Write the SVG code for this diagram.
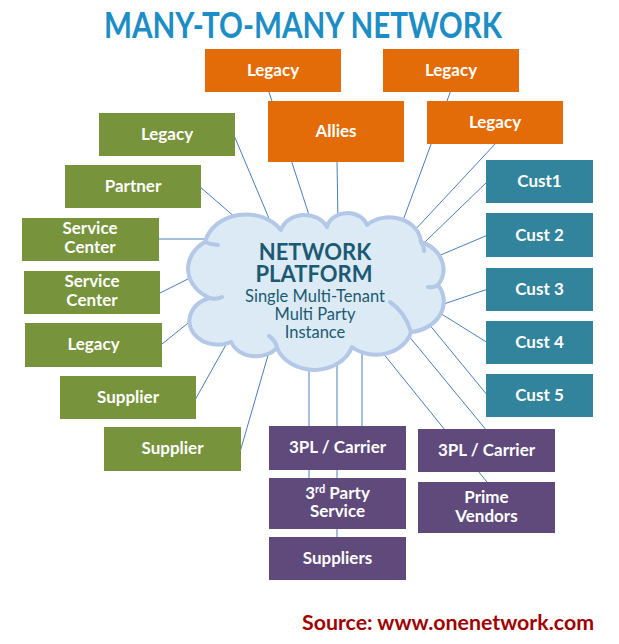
<svg xmlns="http://www.w3.org/2000/svg" width="619" height="644" viewBox="0 0 619 644">
<style>
.c line{stroke:#4a7ebb;stroke-width:1}
text{font-family:Lato,"Open Sans","Liberation Sans",sans-serif;font-weight:bold}
.box text{font-size:17px;fill:#ffffff;text-anchor:middle}
.or rect{fill:#e36c09}
.gr rect{fill:#77933c}
.te rect{fill:#31849b}
.pu rect{fill:#604a7b}
.cloud{fill:#dbeaf5;stroke:#b3c7e6;stroke-width:4;stroke-linejoin:round}
.crease{fill:none;stroke:#b3c7e6;stroke-width:4;stroke-linecap:round}
.ct{fill:#1b5a72;text-anchor:middle}
.cs{font-weight:normal;font-size:16.5px}
</style>
<rect width="619" height="644" fill="#ffffff"/>
<text x="303" y="38" font-size="36" fill="#1c8dc5" text-anchor="middle" textLength="398" lengthAdjust="spacingAndGlyphs">MANY-TO-MANY NETWORK</text>

<g id="connectors" class="c">
<line x1="268" y1="89" x2="313.7" y2="229.4"/>
<line x1="337" y1="160" x2="338" y2="225"/>
<line x1="451" y1="90" x2="399.8" y2="229.2"/>
<line x1="496" y1="143" x2="404.8" y2="240.8"/>
<line x1="233" y1="133" x2="273.5" y2="229.1"/>
<line x1="199" y1="186" x2="245" y2="225.8"/>
<line x1="157" y1="239" x2="218" y2="239"/>
<line x1="158" y1="294" x2="198.7" y2="273.6"/>
<line x1="160" y1="345.6" x2="197.4" y2="315.6"/>
<line x1="195" y1="400" x2="233.9" y2="330.5"/>
<line x1="240" y1="452" x2="272.3" y2="340.5"/>
<line x1="488" y1="181" x2="418.4" y2="248.3"/>
<line x1="488" y1="235" x2="431.9" y2="258.6"/>
<line x1="488" y1="289" x2="435.6" y2="306.8"/>
<line x1="488" y1="343" x2="432.8" y2="308.6"/>
<line x1="488" y1="396" x2="420.4" y2="313.7"/>
<line x1="405.3" y1="331.8" x2="487" y2="431"/>
<line x1="374.5" y1="342.7" x2="489" y2="484.5"/>
<line x1="309" y1="360" x2="309" y2="480"/>
<line x1="337" y1="360" x2="337" y2="539"/>
<line x1="362" y1="350" x2="362" y2="428"/>
</g>

<g id="cloud">
<path class="cloud" d="M205,242 A42,35 0 0 1 281,230 A24.5,20.4 0 0 1 327,227 A20.7,17.2 0 0 1 367,225 A31.7,26.4 0 0 1 421,242 A35,29.3 0 0 1 438,285 A36.8,30.7 0 0 1 411,332 A36,30 0 0 1 352,347 A39.6,33 0 0 1 277,348 A27,22.6 0 0 1 231,342 A28.5,23.8 0 1 1 210,298 A39,32.5 0 0 1 205,242 Z"/>
<path class="crease" d="M421,242 Q424,246 424,251 M438,285 Q433,288 428,287 M411,332 Q405,312 390,302 M277,348 Q276,341 269,336 M210,298 Q216,300 222,297 M205,242 Q211,245 218,245"/>
<text class="ct" x="315" y="260" font-size="22">NETWORK</text>
<text class="ct" x="314" y="282" font-size="22">PLATFORM</text>
<text class="ct cs" x="315" y="302">Single Multi-Tenant</text>
<text class="ct cs" x="315" y="320">Multi Party</text>
<text class="ct cs" x="315" y="338">Instance</text>
</g>

<g id="legacy-o1" class="box or"><rect x="205" y="49" width="136" height="43"/><text x="273" y="76">Legacy</text></g>
<g id="legacy-o2" class="box or"><rect x="383" y="49" width="136" height="43"/><text x="451" y="76">Legacy</text></g>
<g id="allies" class="box or"><rect x="268" y="101" width="136" height="61"/><text x="336" y="137">Allies</text></g>
<g id="legacy-o3" class="box or"><rect x="427" y="101" width="136" height="43"/><text x="495" y="128">Legacy</text></g>

<g id="legacy-g1" class="box gr"><rect x="99" y="113" width="136" height="43"/><text x="167" y="140">Legacy</text></g>
<g id="partner" class="box gr"><rect x="65" y="165" width="136" height="43"/><text x="133" y="192">Partner</text></g>
<g id="service-center-1" class="box gr"><rect x="22" y="218" width="137" height="43"/><text x="90" y="234">Service</text><text x="90" y="253">Center</text></g>
<g id="service-center-2" class="box gr"><rect x="24" y="271" width="136" height="43"/><text x="92" y="287">Service</text><text x="92" y="306">Center</text></g>
<g id="legacy-g2" class="box gr"><rect x="25" y="323" width="137" height="44"/><text x="93.5" y="350">Legacy</text></g>
<g id="supplier-1" class="box gr"><rect x="60" y="376" width="136" height="43"/><text x="128" y="403">Supplier</text></g>
<g id="supplier-2" class="box gr"><rect x="104" y="427" width="137" height="44"/><text x="172.5" y="454">Supplier</text></g>

<g id="cust1" class="box te"><rect x="486" y="160" width="107" height="43"/><text x="539.5" y="187">Cust1</text></g>
<g id="cust2" class="box te"><rect x="486" y="213" width="107" height="44"/><text x="539.5" y="241">Cust 2</text></g>
<g id="cust3" class="box te"><rect x="486" y="268" width="107" height="43"/><text x="539.5" y="295">Cust 3</text></g>
<g id="cust4" class="box te"><rect x="486" y="321" width="107" height="43"/><text x="539.5" y="348">Cust 4</text></g>
<g id="cust5" class="box te"><rect x="486" y="374" width="107" height="43"/><text x="539.5" y="401">Cust 5</text></g>

<g id="carrier-1" class="box pu"><rect x="269" y="426" width="137" height="44"/><text x="337.5" y="453">3PL / Carrier</text></g>
<g id="third-party" class="box pu"><rect x="269" y="478" width="137" height="51"/><text x="337.5" y="499">3<tspan font-size="11" dy="-6">rd</tspan><tspan dy="6"> Party</tspan></text><text x="337.5" y="517">Service</text></g>
<g id="suppliers" class="box pu"><rect x="269" y="537" width="137" height="43"/><text x="337.5" y="564">Suppliers</text></g>
<g id="carrier-2" class="box pu"><rect x="418" y="429" width="137" height="43"/><text x="486.5" y="456">3PL / Carrier</text></g>
<g id="prime-vendors" class="box pu"><rect x="418" y="482" width="137" height="51"/><text x="486.5" y="503">Prime</text><text x="486.5" y="522">Vendors</text></g>

<text x="448" y="630" font-size="21" fill="#a00000" text-anchor="middle" textLength="292" lengthAdjust="spacingAndGlyphs">Source: www.onenetwork.com</text>
</svg>
